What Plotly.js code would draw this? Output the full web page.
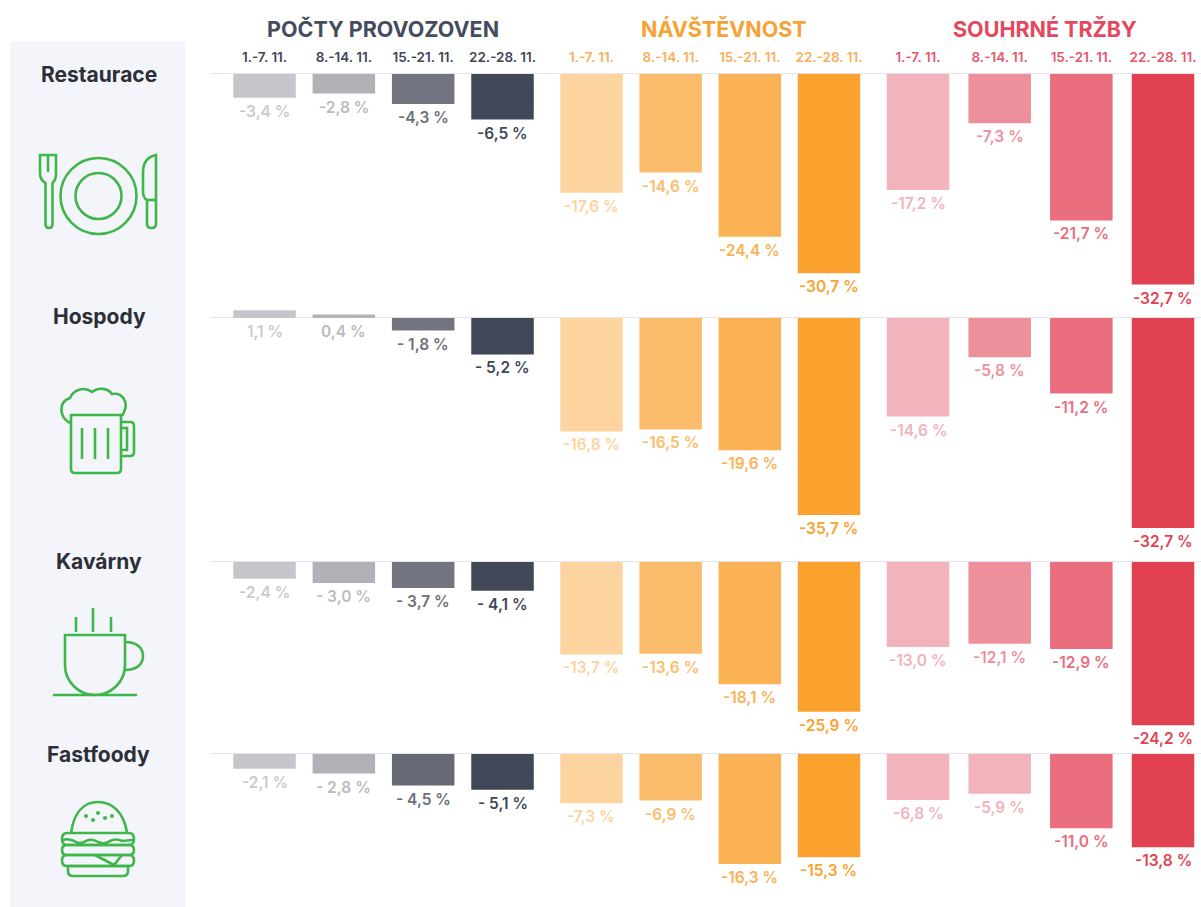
<!DOCTYPE html>
<html><head><meta charset="utf-8">
<script src="https://cdn.plot.ly/plotly-3.0.1.min.js"></script>
<style>html,body{margin:0;padding:0;background:#fff}#c{width:1201px;height:907px}</style></head>
<body><div id="c"></div>
<script>
const W = 1201, H = 907;
const weeks = ['1.-7. 11.', '8.-14. 11.', '15.-21. 11.', '22.-28. 11.'];
const rowNames = ['Restaurace', 'Hospody', 'Kavárny', 'Fastfoody'];
const groupTitles = ['POČTY PROVOZOVEN', 'NÁVŠTĚVNOST', 'SOUHRNÉ TRŽBY'];

// Drawn bar lengths in percent, per row: provozovny / navstevnost / trzby
const restauraceProvozovny = [-3.4, -2.8, -4.3, -6.5];
const restauraceNavstevnost = [-17.6, -14.6, -24.1, -29.5];
const restauraceTrzby = [-17.2, -7.3, -21.7, -31.2];
const hospodyProvozovny = [1.1, 0.5, -1.8, -5.2];
const hospodyNavstevnost = [-16.8, -16.5, -19.6, -29.2];
const hospodyTrzby = [-14.6, -5.8, -11.2, -31.1];
const kavarnyProvozovny = [-2.4, -3.0, -3.7, -4.1];
const kavarnyNavstevnost = [-13.7, -13.6, -18.1, -22.2];
const kavarnyTrzby = [-12.6, -12.1, -12.9, -24.2];
const fastfoodyProvozovny = [-2.1, -2.8, -4.5, -5.1];
const fastfoodyNavstevnost = [-7.3, -6.9, -16.3, -15.3];
const fastfoodyTrzby = [-6.8, -5.9, -11.0, -13.8];

// Printed value labels
const restauraceProvozovnyText = ['-3,4 %', '-2,8 %', '-4,3 %', '-6,5 %'];
const restauraceNavstevnostText = ['-17,6 %', '-14,6 %', '-24,4 %', '-30,7 %'];
const restauraceTrzbyText = ['-17,2 %', '-7,3 %', '-21,7 %', '-32,7 %'];
const hospodyProvozovnyText = ['1,1 %', '0,4 %', '- 1,8 %', '- 5,2 %'];
const hospodyNavstevnostText = ['-16,8 %', '-16,5 %', '-19,6 %', '-35,7 %'];
const hospodyTrzbyText = ['-14,6 %', '-5,8 %', '-11,2 %', '-32,7 %'];
const kavarnyProvozovnyText = ['-2,4 %', '- 3,0 %', '- 3,7 %', '- 4,1 %'];
const kavarnyNavstevnostText = ['-13,7 %', '-13,6 %', '-18,1 %', '-25,9 %'];
const kavarnyTrzbyText = ['-13,0 %', '-12,1 %', '-12,9 %', '-24,2 %'];
const fastfoodyProvozovnyText = ['-2,1 %', '- 2,8 %', '- 4,5 %', '- 5,1 %'];
const fastfoodyNavstevnostText = ['-7,3 %', '-6,9 %', '-16,3 %', '-15,3 %'];
const fastfoodyTrzbyText = ['-6,8 %', '-5,9 %', '-11,0 %', '-13,8 %'];

const greys = ['#c5c6cb', '#b0b2b8', '#72757f', '#404757'];
const oranges = ['#fdd4a0', '#fbbd6c', '#fab254', '#faa22d'];
const reds = ['#f2b3bc', '#ee909c', '#ea6e7e', '#e24152'];
const labelGreys = ['#c9cacd', '#b9bbc0', '#6d7079', '#404757'];
const fastfoodGreys = ['#c5c6cb', '#b0b2b8', '#666a76', '#404757'];
const fastfoodReds = ['#f2b3bc', '#f2b3bc', '#ea6e7e', '#e24152'];

const rows = [
  [restauraceProvozovny, restauraceNavstevnost, restauraceTrzby],
  [hospodyProvozovny, hospodyNavstevnost, hospodyTrzby],
  [kavarnyProvozovny, kavarnyNavstevnost, kavarnyTrzby],
  [fastfoodyProvozovny, fastfoodyNavstevnost, fastfoodyTrzby]
];
const rowTexts = [
  [restauraceProvozovnyText, restauraceNavstevnostText, restauraceTrzbyText],
  [hospodyProvozovnyText, hospodyNavstevnostText, hospodyTrzbyText],
  [kavarnyProvozovnyText, kavarnyNavstevnostText, kavarnyTrzbyText],
  [fastfoodyProvozovnyText, fastfoodyNavstevnostText, fastfoodyTrzbyText]
];

// layout geometry (px)
const FONT = 'Inter, "Open Sans", sans-serif';
const rowTop = [66, 300, 545, 745], rowBottom = [300, 545, 745, 900], rowZero = [74, 318, 562, 754];
const colLeft = [224.85, 551.9, 877.17], colStep = [79.33, 79.17, 81.67];
const colScale = [7.0, 6.75, 6.75];  // px per percent
const barPx = 62.5;
const colTick = ['#3f4656', '#f6b05a', '#e5586c'];
const px = x => x / W, py = y => 1 - y / H;

const traces = [];
const layout = {
  width: W, height: H, margin: {l: 0, r: 0, t: 0, b: 0}, showlegend: false,
  paper_bgcolor: '#ffffff', plot_bgcolor: 'rgba(0,0,0,0)',
  font: {family: FONT}, annotations: [], shapes: [], hovermode: false
};

const GREEN = '#3fb64a';
function paperPath(d) {
  return d.replace(/(-?[\d.]+),(-?[\d.]+)/g, (m, a, b) => px(+a).toFixed(5) + ',' + py(+b).toFixed(5));
}
function circle(cx, cy, r, fill) {
  layout.shapes.push({type: 'circle', xref: 'paper', yref: 'paper', x0: px(cx - r), x1: px(cx + r), y0: py(cy + r), y1: py(cy - r),
    line: {color: GREEN, width: fill ? 0 : 2.6}, fillcolor: fill ? GREEN : 'rgba(0,0,0,0)', layer: 'above'});
}
function icon(d) {
  layout.shapes.push({type: 'path', xref: 'paper', yref: 'paper', path: paperPath(d),
    line: {color: GREEN, width: 2.6}, fillcolor: 'rgba(0,0,0,0)', layer: 'above'});
}

// sidebar
layout.shapes.push({type: 'rect', xref: 'paper', yref: 'paper', x0: px(10), x1: px(185.5), y0: py(907), y1: py(41),
  line: {width: 0}, fillcolor: '#f4f5fa', layer: 'below'});
// row rules
rowZero.forEach(y => layout.shapes.push({type: 'line', xref: 'paper', yref: 'paper', x0: px(210), x1: 1, y0: py(y - 0.5), y1: py(y - 0.5),
  line: {color: '#e2e4e8', width: 1}, layer: 'below'}));

rows.forEach((rowVals, r) => {
  rowVals.forEach((vals, c) => {
    const n = r * 3 + c + 1;
    const xk = 'xaxis' + n, yk = 'yaxis' + n;
    let colors = [greys, oranges, reds][c];
    if (r === 3 && c === 0) colors = fastfoodGreys;
    if (r === 3 && c === 2) colors = fastfoodReds;
    traces.push({type: 'bar', x: weeks, y: vals, xaxis: 'x' + n, yaxis: 'y' + n,
      width: barPx / colStep[c], marker: {color: colors, line: {width: 0}}, hoverinfo: 'skip', cliponaxis: false});
    const right = Math.min(W, colLeft[c] + 4 * colStep[c]);
    layout[xk] = {
      domain: [px(colLeft[c]), px(right)], anchor: 'y' + n, type: 'category',
      categoryorder: 'array', categoryarray: weeks,
      range: [-0.5, -0.5 + (right - colLeft[c]) / colStep[c]],
      side: 'top', showgrid: false, zeroline: false, showline: false, ticks: '',
      showticklabels: r === 0, tickfont: {family: FONT, size: 13.5, color: colTick[c], weight: 600}, fixedrange: true
    };
    layout[yk] = {
      domain: [py(rowBottom[r]), py(rowTop[r])], anchor: 'x' + n,
      range: [(rowZero[r] - rowBottom[r]) / colScale[c], (rowZero[r] - rowTop[r]) / colScale[c]],
      visible: false, fixedrange: true
    };
    const lab = c === 0 ? labelGreys : colors;
    vals.forEach((v, i) => {
      layout.annotations.push({xref: 'x' + n, yref: 'y' + n, x: weeks[i], y: Math.min(v, 0), yshift: -13.5,
        text: rowTexts[r][c][i], showarrow: false, yanchor: 'middle', xanchor: 'center',
        font: {family: FONT, size: 15.5, color: lab[i], weight: 600}});
    });
  });
});

// group titles
const titleX = [383, 724, 1045], titleColor = ['#454c5e', '#f6a235', '#e5485e'];
groupTitles.forEach((t, i) => layout.annotations.push({xref: 'paper', yref: 'paper', x: px(titleX[i]), y: py(28.5), text: t,
  showarrow: false, xanchor: 'center', yanchor: 'middle', font: {family: FONT, size: 21.5, color: titleColor[i], weight: 700}}));
// row names
const nameX = [99, 99, 99, 98], nameY = [75, 316.5, 561, 754];
rowNames.forEach((t, i) => layout.annotations.push({xref: 'paper', yref: 'paper', x: px(nameX[i]), y: py(nameY[i]), text: t,
  showarrow: false, xanchor: 'center', yanchor: 'middle', font: {family: FONT, size: 21, color: '#2b2f38', weight: 700}}));

// icons: plate and cutlery
icon('M40,155 L56,155 L56,173 Q56,180 52.5,183 L52.5,224 Q52.5,228 49,228 Q45.5,228 45.5,224 L45.5,183 Q40,180 40,173 Z');
icon('M48,155 L48,172');
circle(98.5, 196, 38); circle(98.5, 196, 23);
icon('M156,155 L156,224 Q156,228 151.5,228 Q147,228 147,224 L147,200 Q143,198 143,191 L143,172 Q143,158 156,155 Z');
icon('M147,200 L156,200');
// beer
icon('M71,415 L121,415 L121,469 Q121,473 117,473 L75,473 Q71,473 71,469 Z');
icon('M70,423 C59,417 58,402 70,398 C73,390 84,386 92,392 C98,387 108,388 112,394 C122,392 129,402 124,412 L122,416');
icon('M121,422 L130,422 Q134,422 134,426 L134,452 Q134,456 130,456 L121,456');
icon('M121,428 L127,428 L127,450 L121,450');
icon('M82,428 L82,459'); icon('M95,428 L95,459'); icon('M108,428 L108,459');
// coffee
icon('M65,635 L125,635 L125,665 C125,683 110,695 95,695 C80,695 65,683 65,665 Z');
icon('M125,642 C137,642 143,648 143,656 C143,664 137,670 125,670');
icon('M53,695 L137,695'); icon('M76,617 L76,632'); icon('M93,608 L93,632'); icon('M111,617 L111,632');
// burger
icon('M71,833 C74,812 84,802 98,802 C112,802 124,812 127,833');
icon('M67,833 L129,833 Q134,833 134,839 Q134,845 129,845 L67,845 Q62,845 62,839 Q62,833 67,833 Z');
icon('M67,845 L129,845 Q134,845 134,850 Q134,855 129,855 L67,855 Q62,855 62,850 Q62,845 67,845 Z');
icon('M67,855 L129,855 Q134,855 134,860.5 Q134,866 129,866 L67,866 Q62,866 62,860.5 Q62,855 67,855 Z');
icon('M68,866 L128,866 L128,871 Q128,876 123,876 L73,876 Q68,876 68,871 Z');
icon('M63,840 Q68,838 74,841 Q80,845 86,841 Q92,838 98,842 Q104,845 110,841 Q116,838 122,841 L133,840');
icon('M95,855 L114,865 L122,855');
[[86, 816], [98, 813], [93, 820], [105, 818], [112, 816]].forEach(p => circle(p[0], p[1], 2, true));

Plotly.newPlot('c', traces, layout, {displayModeBar: false, staticPlot: true});
</script></body></html>
